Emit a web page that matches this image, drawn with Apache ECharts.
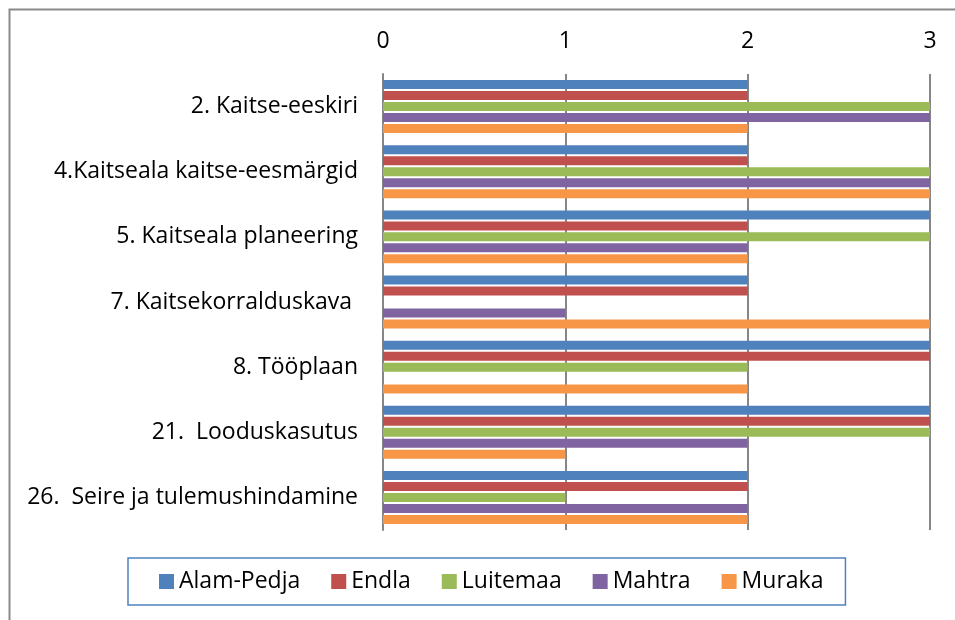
<!DOCTYPE html>
<html>
<head>
<meta charset="utf-8">
<script src="https://cdn.jsdelivr.net/npm/echarts@6/dist/echarts.min.js"></script>
<style>
  html, body { margin: 0; padding: 0; background: #fff; }
  #chart { width: 955px; height: 620px; }
</style>
</head>
<body>
<div id="chart"></div>
<script>
const categories = [
  '2. Kaitse-eeskiri',
  '4.Kaitseala kaitse-eesmärgid',
  '5. Kaitseala planeering',
  '7. Kaitsekorralduskava ',
  '8. Tööplaan',
  '21.  Looduskasutus',
  '26.  Seire ja tulemushindamine'
]
const seriesNames = ['Alam-Pedja', 'Endla', 'Luitemaa', 'Mahtra', 'Muraka']
const alamPedja = [2, 2, 3, 2, 3, 3, 2]
const endla = [2, 2, 2, 2, 3, 3, 2]
const luitemaa = [3, 3, 3, null, 2, 3, 1]
const mahtra = [3, 3, 2, 1, null, 2, 2]
const muraka = [2, 3, 2, 3, 2, 1, 2]
const colors = ['#4f81bd', '#c0504d', '#9bbb59', '#8064a2', '#f79646']

;(function () {
  let myChart = echarts.init(document.getElementById('chart'))
  let font = '"Open Sans", "Liberation Sans", sans-serif'
  let values = [alamPedja, endla, luitemaa, mahtra, muraka]

  let series = seriesNames.map((name, i) => ({
    name: name,
    type: 'bar',
    data: values[i],
    barWidth: 9,
    barGap: '22%',
    itemStyle: { color: colors[i] }
  }))

  let option = {
    animation: false,
    color: colors,
    textStyle: { fontFamily: font },
    // outer frame of the chart (runs past the right and bottom edge)
    graphic: [{
      type: 'rect',
      left: 7,
      top: 7,
      shape: { width: 1000, height: 700 },
      style: { fill: 'none', stroke: '#8a8a8a', lineWidth: 2 },
      silent: true
    }],
    grid: {
      left: 383,
      right: 25,
      top: 74,
      height: 456
    },
    xAxis: {
      type: 'value',
      position: 'top',
      min: 0,
      max: 3,
      interval: 1,
      axisLine: { show: false },
      axisTick: { show: false },
      axisLabel: { color: '#000', fontSize: 23, fontFamily: font, margin: 21 },
      splitLine: { show: true, lineStyle: { color: '#868686', width: 2 } }
    },
    yAxis: {
      type: 'category',
      inverse: true,
      data: categories,
      axisLine: { show: true, lineStyle: { color: '#868686', width: 2 } },
      axisTick: { show: false },
      axisLabel: { color: '#000', fontSize: 23, fontFamily: font, margin: 25 }
    },
    legend: {
      data: seriesNames,
      left: 128,
      top: 558,
      padding: [12, 22, 12, 31],
      itemWidth: 15,
      itemHeight: 15,
      itemGap: 31,
      icon: 'rect',
      borderColor: '#4f81bd',
      borderWidth: 1.5,
      textStyle: { color: '#000', fontSize: 23, fontFamily: font }
    },
    series: series
  }
  myChart.setOption(option)
})()
</script>
</body>
</html>
